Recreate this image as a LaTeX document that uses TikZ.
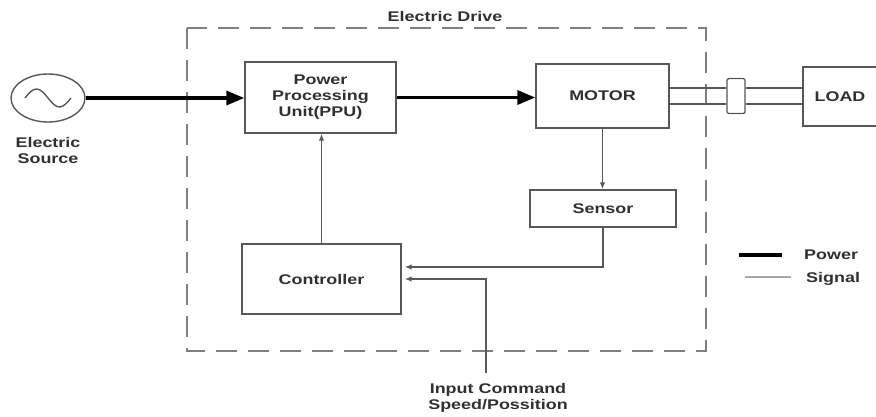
\documentclass[tikz,border=0pt]{standalone}
\usepackage{fontspec}
\setmainfont{Liberation Sans}[FakeStretch=1.28]
\usetikzlibrary{arrows.meta,positioning,shapes.geometric}

\definecolor{edge}{HTML}{585858}
\definecolor{ink}{HTML}{303030}

\begin{document}
\begin{tikzpicture}[
  x=1pt, y=-1pt,
  font=\fontsize{14}{16}\selectfont\bfseries,
  blk/.style={draw=edge, line width=1.4pt, inner sep=0pt, text=ink, align=center},
  lbl/.style={text=ink, align=center, inner sep=0pt},
  pwr/.style={-{Triangle[length=18pt,width=14pt]}, line width=3.4pt},
  sig/.style={-{Latex[length=7pt,width=5.5pt]}, draw=edge, line width=1.6pt},
  shaft/.style={draw=edge, line width=1.4pt},
  drive/.style={draw=black!50, line width=2pt, dash pattern=on 21pt off 11pt}
]
\useasboundingbox (0,0) rectangle (876,416);

% electric drive boundary
\draw[drive] (187,28) rectangle (706,351);
\node[lbl] (drvlbl) at (445,16) {Electric Drive};

% source
\node[blk, ellipse, minimum width=74pt, minimum height=48pt] (src) at (48,98) {};
\draw[edge, line width=1.4pt] ([xshift=-23pt]src.center) sin ++(11.5,-9) cos ++(11.5,9)
  sin ++(11.5,9) cos ++(11.5,-9);
\node[lbl] (srclbl) at (48,150) {Electric\\Source};

% blocks
\node[blk, minimum width=151pt, minimum height=71pt] (ppu) at (320.5,97.5) {Power\\Processing\\Unit(PPU)};
\node[blk, minimum width=133pt, minimum height=64pt] (motor) at (602.5,96) {MOTOR};
\node[blk, minimum width=146pt, minimum height=37pt] (sens) at (603,208.5) {Sensor};
\node[blk, minimum width=159pt, minimum height=70pt] (ctrl) at (321.5,279) {Controller};
\node[blk, minimum width=18pt, minimum height=35pt, rounded corners=1.5pt] (cpl) at (736,96) {};
\node[blk, minimum width=74pt, minimum height=59pt] (load) at (840,96.5) {LOAD};

% power flow
\draw[pwr] (src.east) -- (src.east -| ppu.west);
\draw[pwr] (ppu.east) -- (ppu.east -| motor.west);

% shaft
\draw[shaft] ([yshift=8pt]motor.east) -- ([yshift=8pt]motor.east -| cpl.west);
\draw[shaft] ([yshift=-8pt]motor.east) -- ([yshift=-8pt]motor.east -| cpl.west);
\draw[shaft] ([yshift=8pt]motor.east -| cpl.east) -- ([yshift=8pt]motor.east -| load.west);
\draw[shaft] ([yshift=-8pt]motor.east -| cpl.east) -- ([yshift=-8pt]motor.east -| load.west);

% signals
\draw[sig] (ctrl.north) -- (ctrl.north |- ppu.south);
\draw[sig] (motor.south) -- (motor.south |- sens.north);
\draw[sig, shorten >=3pt] (sens.south) |- ([yshift=12pt]ctrl.east);
\coordinate (cmd) at (486,373);
\draw[sig, shorten >=3pt] (cmd) |- (ctrl.east);
\node[lbl] (cmdlbl) at (498,398) {Input Command\\Speed/Possition};

% legend
\node[lbl, anchor=west] (lgpwr) at (804,255) {Power};
\node[lbl, anchor=west] (lgsig) at (806,279) {Signal};
\draw[line width=3.4pt] ([xshift=-22pt]lgpwr.west) -- ++(-43,0);
\draw[black!35, line width=2.2pt] ([xshift=-15pt]lgsig.west |- 0,277) -- ++(-46,0);
\end{tikzpicture}
\end{document}
